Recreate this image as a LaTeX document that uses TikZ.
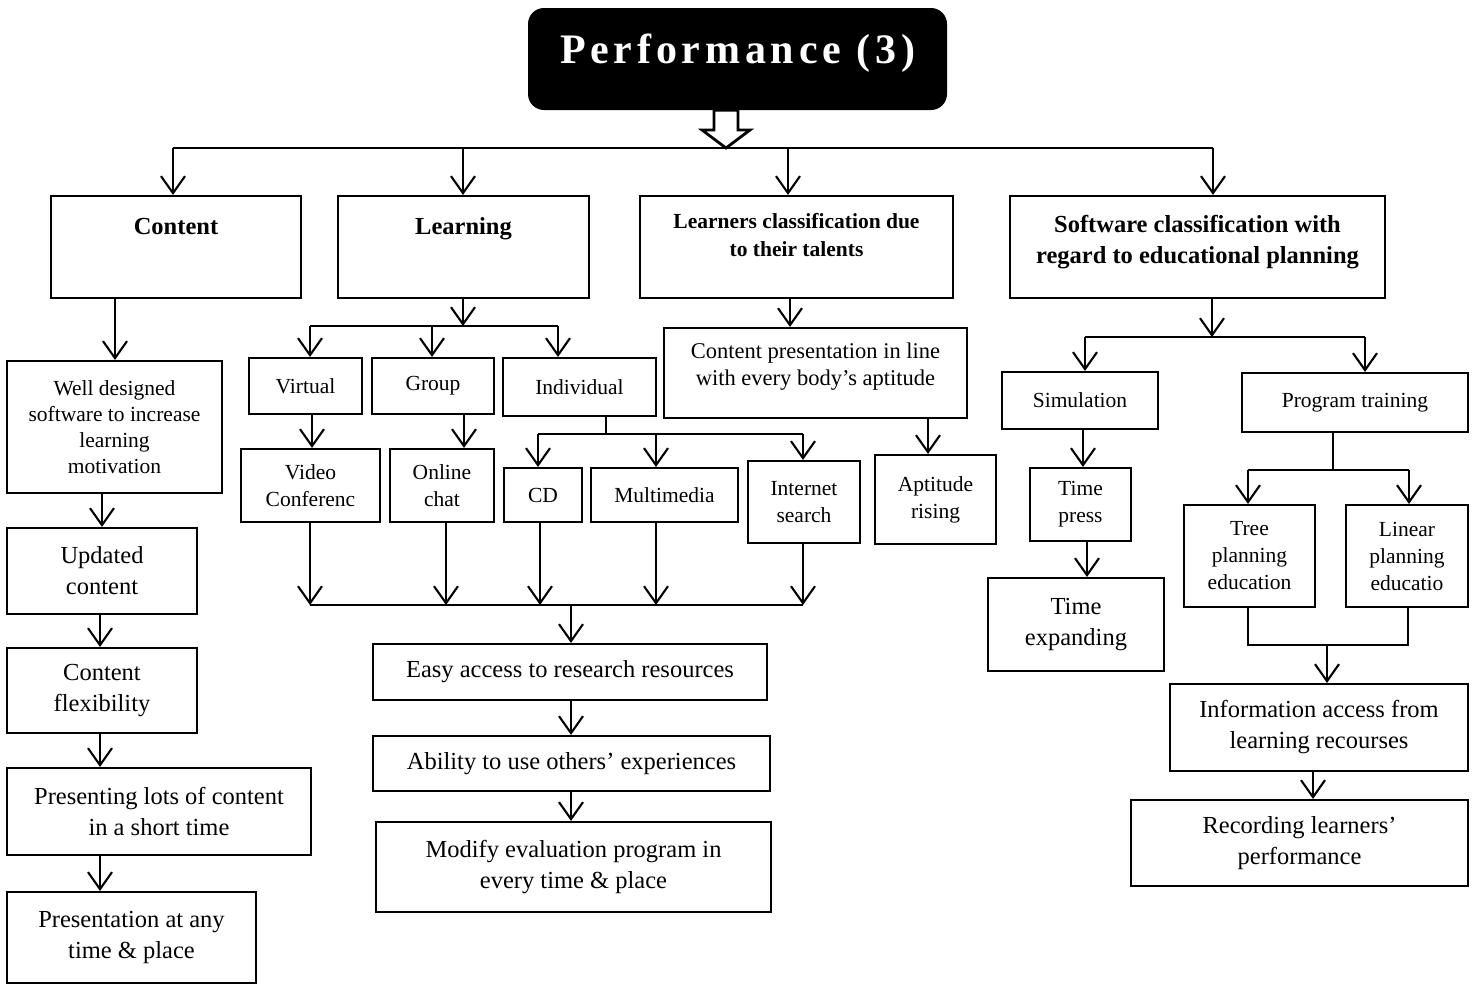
\documentclass[tikz,border=0pt]{standalone}
\usepackage{fontspec}
\setmainfont{Liberation Serif}
\newfontfamily\titlefont[LetterSpace=11.4]{Liberation Serif}
\usetikzlibrary{arrows.meta,calc}
\begin{document}
\begin{tikzpicture}[x=1pt,y=-1pt,
  box/.style={draw,line width=2.1pt,inner sep=0pt,align=center},
  sm/.style={font=\fontsize{21.5}{27}\selectfont},
  lg/.style={font=\fontsize{24.5}{31}\selectfont},
  hd/.style={font=\fontsize{24.5}{31}\selectfont\bfseries},
  hds/.style={font=\fontsize{21.5}{28}\selectfont\bfseries},
  conn/.style={line width=2.1pt},
  arr/.style={line width=2.1pt,-{Straight Barb[length=17pt,width=24pt]}}
]
\fill[white] (0,0) rectangle (1478,985);
\useasboundingbox (0,0) rectangle (1478,985);

% title
\node[fill=black,rounded corners=16pt,inner sep=0pt,minimum width=419pt,minimum height=102pt,
      text height=55pt,text depth=47pt,text=white,font=\fontsize{42}{50}\selectfont\titlefont\bfseries]
      (perf) at (737.5,59) {Performance (3)};

% top level
\node[box,hd,minimum width=250pt,minimum height=102pt,text height=38pt,text depth=64pt] (content) at (176,247) {Content};
\node[box,hd,minimum width=251pt,minimum height=102pt,text height=38pt,text depth=64pt] (learning) at (463.5,247) {Learning};
\node[box,hds,minimum width=313pt,minimum height=102pt,text depth=25pt] (learners) at (796.5,247) {Learners classification due\\to their talents};
\node[box,hd,minimum width=375pt,minimum height=102pt,text depth=15pt] (software) at (1197.5,247) {Software classification with\\regard to educational planning};

% content column
\node[box,sm,minimum width=215pt,minimum height=132pt,font=\fontsize{21.5}{26}\selectfont] (wd) at (114.5,427) {Well designed\\software to increase\\learning\\motivation};
\node[box,lg,minimum width=190pt,minimum height=86pt] (upd) at (102,571) {Updated\\content};
\node[box,lg,minimum width=190pt,minimum height=85pt] (flex) at (102,690.5) {Content\\flexibility};
\node[box,lg,minimum width=304pt,minimum height=87pt] (lots) at (159,811.5) {Presenting lots of content\\in a short time};
\node[box,lg,minimum width=249pt,minimum height=91pt] (anytime) at (131.5,937.5) {Presentation at any\\time \& place};

% learning column
\node[box,sm,minimum width=113pt,minimum height=56pt] (virtual) at (305.5,386) {Virtual};
\node[box,sm,minimum width=122pt,minimum height=56pt] (group) at (433,386) {Group};
\node[box,sm,minimum width=153pt,minimum height=58pt] (indiv) at (579.5,387) {Individual};
\node[box,sm,minimum width=139pt,minimum height=73pt] (video) at (310.5,485.5) {Video\\Conferenc};
\node[box,sm,minimum width=104pt,minimum height=73pt] (chat) at (442,485.5) {Online\\chat};
\node[box,sm,minimum width=78pt,minimum height=54pt] (cd) at (543,495) {CD};
\node[box,sm,minimum width=147pt,minimum height=54pt] (mm) at (664.5,495) {Multimedia};
\node[box,sm,minimum width=112pt,minimum height=82pt] (inet) at (804,502) {Internet\\search};
\node[box,lg,minimum width=394pt,minimum height=56pt] (easy) at (570,672) {Easy access to research resources};
\node[box,lg,minimum width=397pt,minimum height=55pt] (ability) at (571.5,763.5) {Ability to use others' experiences};
\node[box,lg,minimum width=395pt,minimum height=90pt] (modify) at (573.5,867) {Modify evaluation program in\\every time \& place};

% learners column
\node[box,minimum width=303pt,minimum height=90pt,font=\fontsize{22.5}{27}\selectfont,text depth=17pt] (cpres) at (815.5,373) {Content presentation in line\\with every body's aptitude};
\node[box,sm,minimum width=121pt,minimum height=89pt] (apt) at (935.5,499.5) {Aptitude\\rising};

% software column
\node[box,sm,minimum width=156pt,minimum height=57pt] (sim) at (1080,400.5) {Simulation};
\node[box,sm,minimum width=101pt,minimum height=73pt] (tpress) at (1080.5,504.5) {Time\\press};
\node[box,lg,minimum width=176pt,minimum height=93pt] (texp) at (1076,624.5) {Time\\expanding};
\node[box,sm,minimum width=226pt,minimum height=59pt] (prog) at (1355,402.5) {Program training};
\node[box,sm,minimum width=131pt,minimum height=102pt] (tree) at (1249.5,556) {Tree\\planning\\education};
\node[box,sm,minimum width=122pt,minimum height=102pt] (linear) at (1407,556) {Linear\\planning\\educatio};
\node[box,lg,minimum width=298pt,minimum height=87pt] (info) at (1319,727.5) {Information access from\\learning recourses};
\node[box,lg,minimum width=337pt,minimum height=86pt] (rec) at (1299.5,843) {Recording learners'\\performance};

% hollow block arrow under the title
\coordinate (hb) at (726,148);
\draw[line width=2.8pt,fill=white,line join=miter]
  ($(perf.south -| hb)+(-12,0)$) -- ($(perf.south -| hb)+(12,0)$) -- ($(hb)+(12,-18)$) -- ($(hb)+(24,-18)$)
  -- (hb) -- ($(hb)+(-24,-18)$) -- ($(hb)+(-12,-18)$) -- cycle;

% main bus
\coordinate (bA) at (173,148);
\coordinate (bB) at (463,148);
\coordinate (bC) at (788,148);
\coordinate (bD) at (1213,148);
\draw[conn] (bA) -- (bD);
\draw[arr] (bA) -- (content.north -| bA);
\draw[arr] (bB) -- (learning.north -| bB);
\draw[arr] (bC) -- (learners.north -| bC);
\draw[arr] (bD) -- (software.north -| bD);

% content column connectors
\coordinate (xc1) at (115,0);
\coordinate (xc2) at (102,0);
\coordinate (xc3) at (100,0);
\draw[arr] (content.south -| xc1) -- (wd.north -| xc1);
\draw[arr] (wd.south -| xc2) -- (upd.north -| xc2);
\draw[arr] (upd.south -| xc3) -- (flex.north -| xc3);
\draw[arr] (flex.south -| xc3) -- (lots.north -| xc3);
\draw[arr] (lots.south -| xc3) -- (anytime.north -| xc3);

% learning connectors
\coordinate (lj) at (463,326);
\coordinate (lj1) at (310,326);
\coordinate (lj2) at (432,326);
\coordinate (lj3) at (558,326);
\draw[arr] (learning.south -| lj) -- (lj);
\draw[conn] (lj1) -- (lj3);
\draw[arr] (lj1) -- (virtual.north -| lj1);
\draw[arr] (lj2) -- (group.north -| lj2);
\draw[arr] (lj3) -- (indiv.north -| lj3);
\coordinate (xv) at (312,0);
\coordinate (xg) at (464,0);
\draw[arr] (virtual.south -| xv) -- (video.north -| xv);
\draw[arr] (group.south -| xg) -- (chat.north -| xg);
\coordinate (ij) at (606,434);
\coordinate (ij1) at (538,434);
\coordinate (ij2) at (656,434);
\coordinate (ij3) at (803,434);
\draw[conn] (indiv.south -| ij) -- (ij);
\draw[conn] (ij1) -- (ij3);
\draw[arr] (ij1) -- (cd.north -| ij1);
\draw[arr] (ij2) -- (mm.north -| ij2);
\draw[arr] (ij3) -- (inet.north -| ij3);

\coordinate (k1) at (310,605);
\coordinate (k2) at (446,605);
\coordinate (k3) at (540,605);
\coordinate (k4) at (656,605);
\coordinate (k5) at (803,605);
\coordinate (km) at (571,605);
\draw[arr] (video.south -| k1) -- (k1);
\draw[arr] (chat.south -| k2) -- (k2);
\draw[arr] (cd.south -| k3) -- (k3);
\draw[arr] (mm.south -| k4) -- (k4);
\draw[arr] (inet.south -| k5) -- (k5);
\draw[conn] (k1) -- (k5);
\draw[arr] (km) -- (easy.north -| km);
\draw[arr] (easy.south -| km) -- (ability.north -| km);
\draw[arr] (ability.south -| km) -- (modify.north -| km);

% learners connectors
\coordinate (xl) at (790,0);
\coordinate (xa) at (928,0);
\draw[arr] (learners.south -| xl) -- (cpres.north -| xl);
\draw[arr] (cpres.south -| xa) -- (apt.north -| xa);

% software connectors
\coordinate (sj) at (1212,337);
\coordinate (sj1) at (1085,337);
\coordinate (sj2) at (1365,337);
\draw[arr] (software.south -| sj) -- (sj);
\draw[conn] (sj1) -- (sj2);
\draw[arr] (sj1) -- (sim.north -| sj1);
\draw[arr] (sj2) -- (prog.north -| sj2);
\coordinate (xs1) at (1083,0);
\coordinate (xs2) at (1087,0);
\draw[arr] (sim.south -| xs1) -- (tpress.north -| xs1);
\draw[arr] (tpress.south -| xs2) -- (texp.north -| xs2);

\coordinate (pj) at (1333,470);
\coordinate (pj1) at (1248,470);
\coordinate (pj2) at (1409,470);
\draw[conn] (prog.south -| pj) -- (pj);
\draw[conn] (pj1) -- (pj2);
\draw[arr] (pj1) -- (tree.north -| pj1);
\draw[arr] (pj2) -- (linear.north -| pj2);

\coordinate (qj1) at (1248,645);
\coordinate (qj2) at (1408,645);
\coordinate (qm) at (1327,645);
\draw[conn] (tree.south -| qj1) -- (qj1) -- (qj2) -- (linear.south -| qj2);
\draw[arr] (qm) -- (info.north -| qm);
\coordinate (xr) at (1313,0);
\draw[arr] (info.south -| xr) -- (rec.north -| xr);
\end{tikzpicture}
\end{document}
